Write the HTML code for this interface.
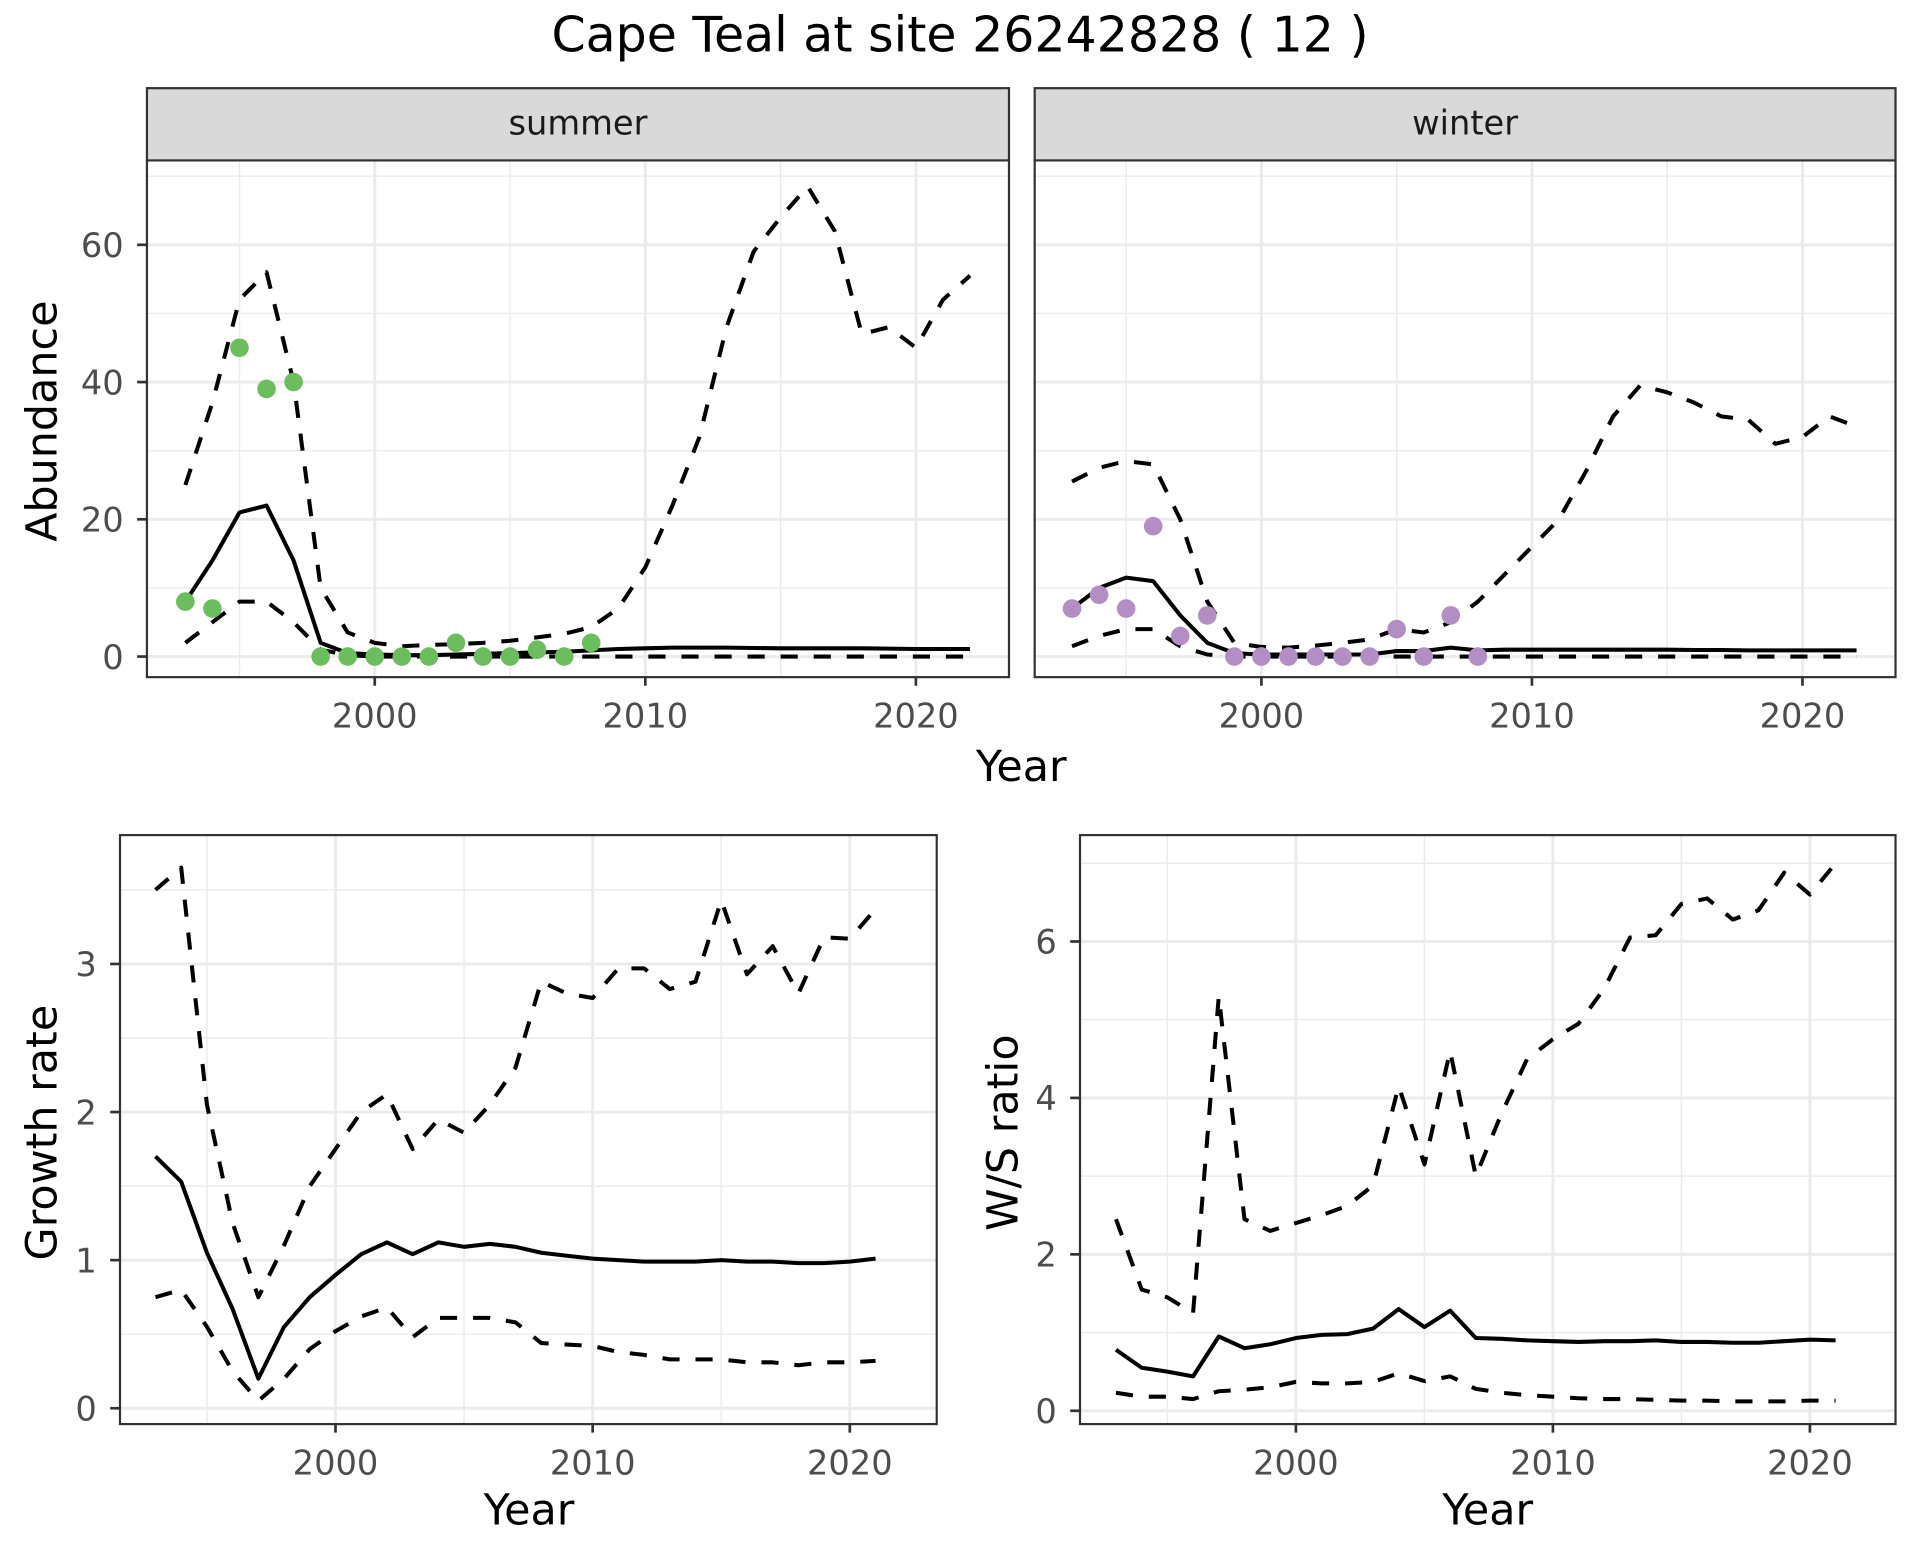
<!DOCTYPE html>
<html><head><meta charset="utf-8"><style>
html,body{margin:0;padding:0;background:#fff}
svg{display:block}
text{font-family:"DejaVu Sans","Liberation Sans",sans-serif}
</style></head><body>
<svg id="c" width="1920" height="1560" viewBox="0 0 1568 1274" xmlns="http://www.w3.org/2000/svg">
<rect width="1568" height="1274" fill="#fff"/>
<text x="784" y="42" font-size="40" text-anchor="middle" fill="#000">Cape Teal at site 26242828 ( 12 )</text>
</svg>
<script>
// ---- data ----
const yearsAbund = [1993,1994,1995,1996,1997,1998,1999,2000,2001,2002,2003,2004,2005,2006,2007,2008,2009,2010,2011,2012,2013,2014,2015,2016,2017,2018,2019,2020,2021,2022];
const summerMean = [8,14,21,22,14,2,0.5,0.3,0.2,0.2,0.3,0.4,0.5,0.6,0.7,0.9,1.1,1.2,1.3,1.3,1.3,1.25,1.2,1.2,1.2,1.2,1.15,1.1,1.1,1.1];
const summerUpper = [25,37,52,56,40,10,3.5,2,1.5,1.7,1.8,2,2.3,2.8,3.3,4.3,7,13,22,32,48,59,64,68.5,62,47,48,45,52,55.5];
const summerLower = [2,5,8,8,5,1,0.2,0,0,0,0,0,0,0,0,0,0,0,0,0,0,0,0,0,0,0,0,0,0,0];
const winterMean = [7,10,11.5,11,6,2,0.5,0.3,0.3,0.3,0.3,0.3,0.8,0.8,1.3,0.9,1,1,1,1,1,1,1,0.95,0.95,0.9,0.9,0.9,0.9,0.9];
const winterUpper = [25.5,27.5,28.5,28,20,8,2,1.4,1.3,1.6,2,2.5,4,3.5,5,8,12,16,20,27,35,39.5,38.5,37,35,34.5,31,32,35,33.5];
const winterLower = [1.5,3,4,4,1.5,0.3,0,0,0,0,0,0,0,0,0,0,0,0,0,0,0,0,0,0,0,0,0,0,0,0];
const countYears = [1993,1994,1995,1996,1997,1998,1999,2000,2001,2002,2003,2004,2005,2006,2007,2008];
const summerCounts = [8,7,45,39,40,0,0,0,0,0,2,0,0,1,0,2];
const winterCounts = [7,9,7,19,3,6,0,0,0,0,0,0,4,0,6,0];
const yearsRate = [1993,1994,1995,1996,1997,1998,1999,2000,2001,2002,2003,2004,2005,2006,2007,2008,2009,2010,2011,2012,2013,2014,2015,2016,2017,2018,2019,2020,2021];
const growthMean = [1.7,1.53,1.05,0.67,0.2,0.55,0.75,0.9,1.04,1.12,1.04,1.12,1.09,1.11,1.09,1.05,1.03,1.01,1.0,0.99,0.99,0.99,1.0,0.99,0.99,0.98,0.98,0.99,1.01];
const growthUpper = [3.5,3.65,2.05,1.25,0.75,1.1,1.5,1.75,2.0,2.12,1.75,1.95,1.86,2.05,2.3,2.88,2.8,2.77,2.97,2.97,2.83,2.88,3.43,2.93,3.12,2.8,3.18,3.17,3.37];
const growthLower = [0.75,0.8,0.55,0.25,0.05,0.2,0.4,0.52,0.62,0.68,0.48,0.61,0.61,0.61,0.58,0.44,0.43,0.42,0.38,0.36,0.33,0.33,0.33,0.31,0.31,0.29,0.31,0.31,0.32];
const ratioMean = [0.78,0.55,0.5,0.44,0.95,0.8,0.85,0.93,0.97,0.98,1.05,1.3,1.07,1.28,0.93,0.92,0.9,0.89,0.88,0.89,0.89,0.9,0.88,0.88,0.87,0.87,0.89,0.91,0.9];
const ratioUpper = [2.45,1.55,1.45,1.25,5.3,2.45,2.3,2.4,2.5,2.62,2.88,4.15,3.15,4.6,3.0,3.8,4.5,4.75,4.95,5.4,6.05,6.08,6.48,6.55,6.28,6.4,6.88,6.6,7.0];
const ratioLower = [0.23,0.18,0.18,0.15,0.25,0.27,0.3,0.37,0.35,0.35,0.37,0.48,0.38,0.44,0.28,0.23,0.2,0.18,0.16,0.15,0.15,0.14,0.13,0.13,0.12,0.12,0.12,0.13,0.13];
const xTicks = [2000,2010,2020];
const xMinor = [1995,2005,2015];
const abundTicks = [0,20,40,60];
const abundMinor = [10,30,50,70];
const growthTicks = [0,1,2,3];
const growthMinor = [0.5,1.5,2.5,3.5];
const ratioTicks = [0,2,4,6];
const ratioMinor = [1,3,5,7];

const svgEl = document.getElementById('c');
const NS = 'http://www.w3.org/2000/svg';
function mk(tag, attrs, parent){
  const e = document.createElementNS(NS, tag);
  for (const k in attrs) e.setAttribute(k, attrs[k]);
  (parent||svgEl).appendChild(e);
  return e;
}
function panel(o){
  const g = mk('g', {});
  
  
  const X = v => o.x0 + (v - o.xmin) / (o.xmax - o.xmin) * (o.x1 - o.x0);
  const Y = v => o.y1 - (v - o.ymin) / (o.ymax - o.ymin) * (o.y1 - o.y0);
  o.xMinor.forEach(v => {
    const l = mk('line', {x1:X(v), x2:X(v), y1:o.y0, y2:o.y1, stroke:'#ebebeb', 'stroke-width':1.2}, g);
    
    
  });
  o.yMinor.forEach(v => { if (v < o.ymax) {
    const l = mk('line', {x1:o.x0, x2:o.x1, y1:Y(v), y2:Y(v), stroke:'#ebebeb', 'stroke-width':1.2}, g);
    
    
  }});
  o.xTicks.forEach(v => {
    const l = mk('line', {x1:X(v), x2:X(v), y1:o.y0, y2:o.y1, stroke:'#ebebeb', 'stroke-width':2.4}, g);
    
    
    const t = mk('line', {x1:X(v), x2:X(v), y1:o.y1, y2:o.y1+7, stroke:'#333', 'stroke-width':2.2}, g);
    
    
    const tx = mk('text', {x:X(v), y:o.y1+41, 'font-size':27.5, fill:'#4d4d4d', 'text-anchor':'middle'}, g);
    tx.textContent = v;
    
    
  });
  o.yTicks.forEach(v => {
    const l = mk('line', {x1:o.x0, x2:o.x1, y1:Y(v), y2:Y(v), stroke:'#ebebeb', 'stroke-width':2.4}, g);
    
    
    if (o.yLabels) {
      const t = mk('line', {x1:o.x0-8, x2:o.x0, y1:Y(v), y2:Y(v), stroke:'#333', 'stroke-width':2.2}, g);
      
      
      const tx = mk('text', {x:o.x0-19, y:Y(v)+10, 'font-size':27.5, fill:'#4d4d4d', 'text-anchor':'end'}, g);
      tx.textContent = v;
      
      
    }
  });
  const line = (xs, ys, dashed, nm) => {
    const d = xs.map((x,i) => (i?'L':'M') + X(x).toFixed(2) + ',' + Y(ys[i]).toFixed(2)).join('');
    const p = mk('path', {d:d, fill:'none', stroke:'#000', 'stroke-width':3.3, 'stroke-dasharray':dashed?'14,13':'none', 'stroke-linejoin':'round'}, g);
    
    
  };
  line(o.xs, o.upper, true, 'upper-bound-line');
  line(o.xs, o.lower, true, 'lower-bound-line');
  line(o.xs, o.mean, false, 'mean-line');
  if (o.pts) o.pts.forEach((v,i) => {
    const c = mk('circle', {cx:X(o.ptx[i]), cy:Y(v), r:7.6, fill:o.col}, g);
    
    
  });
  const b = mk('rect', {x:o.x0, y:o.y0, width:o.x1-o.x0, height:o.y1-o.y0, fill:'none', stroke:'#333', 'stroke-width':1.8}, g);
  
  
  if (o.strip) {
    const s = mk('rect', {x:o.x0, y:o.y0-59, width:o.x1-o.x0, height:59, fill:'#d9d9d9', stroke:'#333', 'stroke-width':1.8}, g);
    
    
    const st = mk('text', {x:(o.x0+o.x1)/2, y:o.y0-21, 'font-size':27.5, fill:'#1a1a1a', 'text-anchor':'middle'}, g);
    st.textContent = o.strip;
    
    
  }
}
const topCfg = {y0:131, y1:553, ymin:-3.0, ymax:72.3, xs:yearsAbund, xTicks:xTicks, xMinor:xMinor, yTicks:abundTicks, yMinor:abundMinor, ptx:countYears};
panel(Object.assign({}, topCfg, {name:'summer-panel', x0:120, x1:824, xmin:1991.58, xmax:2023.44, mean:summerMean, upper:summerUpper, lower:summerLower, pts:summerCounts, col:'#6cbd5d', strip:'summer', yLabels:true}));
panel(Object.assign({}, topCfg, {name:'winter-panel', x0:845, x1:1548, xmin:1991.62, xmax:2023.44, mean:winterMean, upper:winterUpper, lower:winterLower, pts:winterCounts, col:'#b38ec5', strip:'winter', yLabels:false}));
panel({name:'growth-rate-panel', x0:98, x1:765, y0:682, y1:1163, xmin:1991.62, xmax:2023.38, ymin:-0.107, ymax:3.87, xs:yearsRate, mean:growthMean, upper:growthUpper, lower:growthLower, xTicks:xTicks, xMinor:xMinor, yTicks:growthTicks, yMinor:growthMinor, yLabels:true});
panel({name:'ws-ratio-panel', x0:882, x1:1548, y0:682, y1:1163, xmin:1991.6, xmax:2023.33, ymin:-0.17, ymax:7.36, xs:yearsRate, mean:ratioMean, upper:ratioUpper, lower:ratioLower, xTicks:xTicks, xMinor:xMinor, yTicks:ratioTicks, yMinor:ratioMinor, yLabels:true});

function label(x, y, txt, rot, nm){
  const t = mk('text', {x:x, y:y, 'font-size':35, fill:'#000', 'text-anchor':'middle'});
  if (rot) t.setAttribute('transform', 'rotate(-90 ' + x + ' ' + y + ')');
  t.textContent = txt;
  
  
}
label(834, 638, 'Year', false, 'x-axis-title-top');
label(46, 344, 'Abundance', true, 'y-axis-title-abundance');
label(432, 1245, 'Year', false, 'x-axis-title-growth');
label(46, 925, 'Growth rate', true, 'y-axis-title-growth');
label(1215, 1245, 'Year', false, 'x-axis-title-ratio');
label(831, 925, 'W/S ratio', true, 'y-axis-title-ratio');
</script>
</body></html>
